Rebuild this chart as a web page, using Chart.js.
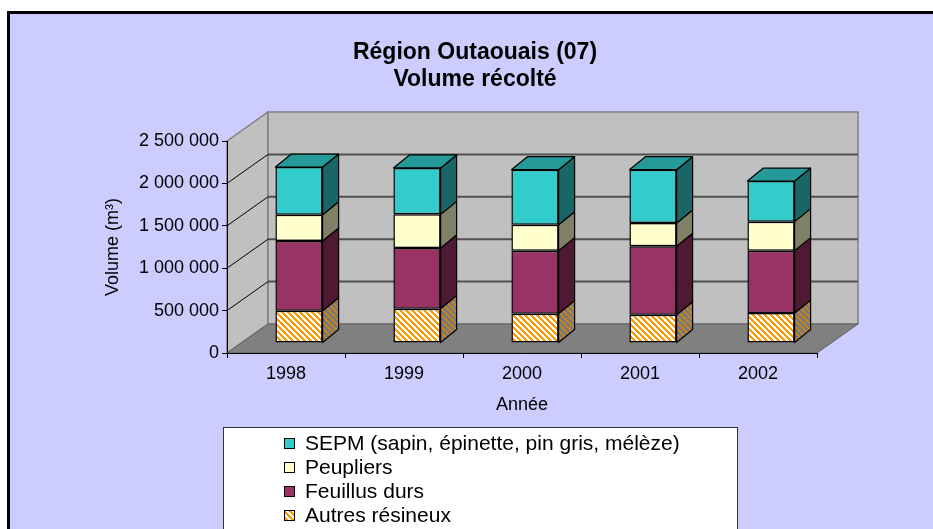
<!doctype html>
<html lang="fr">
    <head>
        <meta charset="UTF-8" />
        <title>Région Outaouais (07) - Volume récolté</title>
        <script src="https://cdn.jsdelivr.net/npm/chart.js"></script>
        <style>
            html,
            body {
                margin: 0;
                padding: 0;
                background: #fff;
            }

            #chart {
                display: block;
            }
        </style>
    </head>
    <body>
        <canvas id="chart" width="933" height="529"></canvas>

        <script>
            const annees = ["1998", "1999", "2000", "2001", "2002"];

            const autresResineux = [381000, 405000, 346000, 334000, 354000];
            const feuillusDurs = [822000, 715000, 743000, 806000, 735000];
            const peupliers = [310000, 397000, 306000, 275000, 342000];
            const sepm = [562000, 547000, 649000, 629000, 479000];

            const yTicks = [0, 500000, 1000000, 1500000, 2000000, 2500000];

            const titre = ["Région Outaouais (07)", "Volume récolté"];

            /*** * * ***/

            const FONT = "'Liberation Sans', Arial, sans-serif";

            // depth of the walls/floor, shift of the bar front face, depth of a bar
            const WALL_DX = 41, WALL_DY = -29;
            const BAR_DX = 13, BAR_DY = -10;
            const SIDE_DX = 16, SIDE_DY = -13;

            function hatch(bg, fg, on) {
                const c = document.createElement("canvas");
                c.width = 6;
                c.height = 6;
                const g = c.getContext("2d");
                g.fillStyle = bg;
                g.fillRect(0, 0, 6, 6);
                g.fillStyle = fg;
                for (let i = 0; i < 6; i++) {
                    for (let j = 0; j < 6; j++) {
                        if ((((i - j) % 6) + 6) % 6 < on) g.fillRect(i, j, 1, 1);
                    }
                }
                return g.createPattern(c, "repeat");
            }

            const ctx = document.getElementById("chart").getContext("2d");

            const hatchFront = hatch("#ffffff", "#ff9900", 3);
            const hatchSide = hatch("#7a7a7a", "#d98500", 2);

            function formatNombre(v) {
                return String(v).replace(/\B(?=(\d{3})+(?!\d))/g, " ");
            }

            /*** * * ***/

            const decor = {
                id: "decor",
                beforeDraw(chart) {
                    const c = chart.ctx;
                    const { x, y } = chart.scales;
                    c.save();

                    // frame
                    c.fillStyle = "#ffffff";
                    c.fillRect(0, 0, chart.width, chart.height);
                    c.fillStyle = "#ccccff";
                    c.fillRect(8.5, 12.5, 1000, 1000);
                    c.strokeStyle = "#000";
                    c.lineWidth = 3;
                    c.strokeRect(8.5, 12.5, 1000, 1000);

                    // title
                    c.fillStyle = "#000";
                    c.font = "bold 23px " + FONT;
                    c.textAlign = "center";
                    c.textBaseline = "alphabetic";
                    titre.forEach((t, i) => c.fillText(t, 475, 59 + i * 27));

                    // walls and floor
                    const l = x.left, r = x.right;
                    const top = y.getPixelForValue(yTicks[yTicks.length - 1]);
                    const bot = y.getPixelForValue(0);

                    c.lineWidth = 1.5;
                    c.strokeStyle = "#808080";

                    c.beginPath();
                    c.moveTo(l, top);
                    c.lineTo(l + WALL_DX, top + WALL_DY);
                    c.lineTo(l + WALL_DX, bot + WALL_DY);
                    c.lineTo(l, bot);
                    c.closePath();
                    c.fillStyle = "#c0c0c0";
                    c.fill();
                    c.stroke();

                    c.beginPath();
                    c.rect(l + WALL_DX, top + WALL_DY, r - l, bot - top);
                    c.fill();
                    c.stroke();

                    c.beginPath();
                    c.moveTo(l, bot);
                    c.lineTo(r, bot);
                    c.lineTo(r + WALL_DX, bot + WALL_DY);
                    c.lineTo(l + WALL_DX, bot + WALL_DY);
                    c.closePath();
                    c.fillStyle = "#808080";
                    c.fill();
                    c.strokeStyle = "#606060";
                    c.lineWidth = 1;
                    c.stroke();

                    // gridlines
                    yTicks.slice(1, -1).forEach((v) => {
                        const py = y.getPixelForValue(v);
                        c.strokeStyle = "#000";
                        c.lineWidth = 1;
                        c.beginPath();
                        c.moveTo(l, py);
                        c.lineTo(l + WALL_DX, py + WALL_DY);
                        c.stroke();
                        c.strokeStyle = "#505050";
                        c.lineWidth = 2;
                        c.beginPath();
                        c.moveTo(l + WALL_DX, py + WALL_DY);
                        c.lineTo(r + WALL_DX, py + WALL_DY);
                        c.stroke();
                    });

                    c.restore();
                },
                beforeDatasetsDraw(chart) {
                    chart.ctx.save();
                    chart.ctx.translate(BAR_DX, BAR_DY);
                },
                afterDatasetsDraw(chart) {
                    const c = chart.ctx;
                    c.restore();
                    c.save();
                    c.strokeStyle = "#000";
                    c.lineWidth = 1.2;
                    c.lineJoin = "round";
                    const n = chart.data.datasets.length;
                    chart.data.datasets.forEach((ds, di) => {
                        chart.getDatasetMeta(di).data.forEach((el) => {
                            const { x, y, base, width } = el.getProps(["x", "y", "base", "width"], true);
                            const left = x - width / 2 + BAR_DX;
                            const right = x + width / 2 + BAR_DX;
                            const top = y + BAR_DY;
                            const bot = base + BAR_DY;

                            c.beginPath();
                            c.moveTo(right, bot);
                            c.lineTo(right, top);
                            c.lineTo(right + SIDE_DX, top + SIDE_DY);
                            c.lineTo(right + SIDE_DX, bot + SIDE_DY);
                            c.closePath();
                            c.fillStyle = ds.sideColor;
                            c.fill();
                            c.stroke();

                            if (di === n - 1) {
                                c.beginPath();
                                c.moveTo(left, top);
                                c.lineTo(left + SIDE_DX, top + SIDE_DY);
                                c.lineTo(right + SIDE_DX, top + SIDE_DY);
                                c.lineTo(right, top);
                                c.closePath();
                                c.fillStyle = ds.topColor;
                                c.fill();
                                c.stroke();
                            }
                        });
                    });
                    c.restore();
                },
                afterDraw(chart) {
                    const c = chart.ctx;
                    c.save();
                    c.fillStyle = "#fff";
                    c.fillRect(223.5, 427.5, 514, 200);
                    c.strokeStyle = "#333";
                    c.lineWidth = 1;
                    c.strokeRect(223.5, 427.5, 514, 200);

                    c.font = "21px " + FONT;
                    c.textAlign = "left";
                    c.textBaseline = "middle";
                    const items = chart.data.datasets.slice().reverse();
                    items.forEach((ds, i) => {
                        const cy = 443 + i * 24;
                        c.fillStyle = ds.backgroundColor;
                        c.fillRect(284, cy - 5, 11, 11);
                        c.strokeStyle = "#000";
                        c.lineWidth = 1;
                        c.strokeRect(284.5, cy - 4.5, 10, 10);
                        c.fillStyle = "#000";
                        c.fillText(ds.label, 305, cy + 1);
                    });
                    c.restore();
                },
            };

            /*** * * ***/

            new Chart(ctx, {
                type: "bar",
                data: {
                    labels: annees,
                    datasets: [
                        {
                            label: "Autres résineux",
                            data: autresResineux,
                            backgroundColor: hatchFront,
                            sideColor: hatchSide,
                        },
                        {
                            label: "Feuillus durs",
                            data: feuillusDurs,
                            backgroundColor: "#993366",
                            sideColor: "#4d1933",
                        },
                        {
                            label: "Peupliers",
                            data: peupliers,
                            backgroundColor: "#ffffcc",
                            sideColor: "#808066",
                        },
                        {
                            label: "SEPM (sapin, épinette, pin gris, mélèze)",
                            data: sepm,
                            backgroundColor: "#33cccc",
                            sideColor: "#1a6666",
                            topColor: "#269999",
                        },
                    ],
                },
                options: {
                    responsive: false,
                    animation: false,
                    layout: {
                        padding: { left: 98, right: 116, top: 141, bottom: 109 },
                    },
                    datasets: {
                        bar: {
                            categoryPercentage: 1,
                            barPercentage: 0.4,
                            borderColor: "#000",
                            borderWidth: 1.5,
                            borderSkipped: false,
                            clip: false,
                        },
                    },
                    scales: {
                        x: {
                            stacked: true,
                            grid: {
                                offset: true,
                                drawOnChartArea: false,
                                tickLength: 5,
                                color: "#000",
                            },
                            border: { color: "#000", width: 1 },
                            ticks: {
                                color: "#000",
                                padding: 5,
                                font: { family: FONT, size: 18 },
                            },
                            title: {
                                display: true,
                                text: "Année",
                                color: "#000",
                                padding: { top: 4, bottom: 4 },
                                font: { family: FONT, size: 18 },
                            },
                            afterFit(scale) {
                                scale.height = 67;
                            },
                        },
                        y: {
                            stacked: true,
                            min: 0,
                            max: 2500000,
                            afterBuildTicks(scale) {
                                scale.ticks = yTicks.map((v) => ({ value: v }));
                            },
                            grid: {
                                drawOnChartArea: false,
                                tickLength: 5,
                                color: "#000",
                            },
                            border: { color: "#000", width: 1 },
                            ticks: {
                                color: "#000",
                                padding: 3,
                                font: { family: FONT, size: 18 },
                                callback: (v) => formatNombre(v),
                            },
                            title: {
                                display: true,
                                text: "Volume (m³)",
                                color: "#000",
                                padding: { top: 4, bottom: 4 },
                                font: { family: FONT, size: 18 },
                            },
                            afterFit(scale) {
                                scale.width = 129;
                            },
                        },
                    },
                    plugins: {
                        legend: { display: false },
                        title: { display: false },
                        tooltip: { enabled: false },
                    },
                },
                plugins: [decor],
            });
        </script>
    </body>
</html>
